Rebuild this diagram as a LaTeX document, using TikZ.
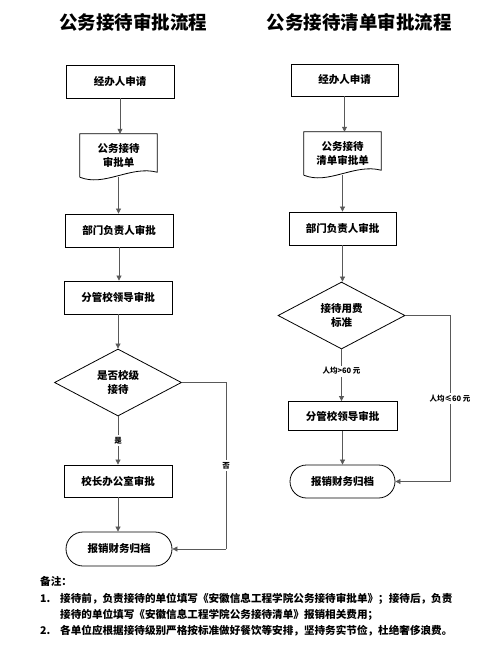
\documentclass[tikz,border=0pt]{standalone}
\usepackage{fontspec}
\setmainfont{Noto Sans CJK SC}
\usetikzlibrary{shapes.geometric,shapes.misc,arrows.meta,calc}
\begin{document}
\begin{tikzpicture}[x=1pt,y=-1pt,
  txt/.style={font=\bfseries\fontsize{10.5}{14.5}\selectfont},
  box/.style={txt,draw=black,line width=0.8pt,minimum width=108pt,minimum height=33pt,inner sep=0pt},
  docnode/.style={txt,minimum width=77pt,minimum height=43pt,inner sep=0pt,align=center},
  dec/.style={txt,draw=black,line width=0.8pt,shape=diamond,minimum width=127pt,minimum height=67pt,inner sep=0pt,align=center},
  term/.style={txt,draw=black,line width=0.8pt,shape=rounded rectangle,minimum width=106pt,minimum height=34pt,inner sep=0pt},
  conn/.style={draw=black!65,line width=0.7pt,-{Triangle[length=5pt,width=5pt]}},
  plain/.style={draw=black!65,line width=0.7pt},
  lab/.style={font=\bfseries\fontsize{7.5}{9}\selectfont,fill=white,inner sep=2pt},
  title/.style={font=\bfseries\fontsize{18.5}{20}\selectfont},
  note/.style={font=\bfseries\fontsize{10.6}{12}\selectfont,anchor=west,inner sep=0pt}
]
\useasboundingbox (0,0) rectangle (502,645);
% titles
\node[title] (t1) at (133,22) {公务接待审批流程};
\node[title] (t2) at (359,22) {公务接待清单审批流程};

% left column
\node[box] (a1) at (120,81.5) {经办人申请};
\node[docnode] (a2) at (118.5,155.5) {公务接待\\审批单};
\draw[line width=0.8pt] (a2.south west) -- (a2.north west) -- (a2.north east) -- ($(a2.south east)+(0,-5)$)
  .. controls ($(a2.south)+(12,-12)$) and ($(a2.south)+(-14,10)$) .. (a2.south west);
\node[box] (a3) at (119,230.5) {部门负责人审批};
\node[box] (a4) at (118,297.5) {分管校领导审批};
\node[dec] (a5) at (118,382.5) {是否校级\\接待};
\node[box,minimum height=32pt] (a6) at (118,481) {校长办公室审批};
\node[term] (a7) at (119,549) {报销财务归档};
\coordinate (ac1) at (226,382.5);
\coordinate (ac2) at (226,549);

\draw[conn] (a1) -- (a1 |- a2.north);
\draw[conn] (a2.south) -- (a2.south |- a3.north);
\draw[conn] (a3) -- (a3 |- a4.north);
\draw[conn] (a4) -- (a4 |- a5.north);
\draw[conn] (a5) -- node[lab] (ly) {是} (a6);
\draw[conn] (a6) -- (a6 |- a7.north);
\draw[plain] (a5.east) -- (ac1) -- node[lab,pos=0.5] (ln) {否} (ac2);
\draw[conn] (ac2) -- (a7.east);

% right column
\node[box,minimum width=107pt,minimum height=32pt] (b1) at (344.5,80) {经办人申请};
\node[docnode] (b2) at (342.5,153.5) {公务接待\\清单审批单};
\draw[line width=0.8pt] (b2.south west) -- (b2.north west) -- (b2.north east) -- ($(b2.south east)+(0,-5)$)
  .. controls ($(b2.south)+(12,-12)$) and ($(b2.south)+(-14,10)$) .. (b2.south west);
\node[box,minimum width=107pt] (b3) at (342.5,228.5) {部门负责人审批};
\node[dec] (b4) at (341.5,315.5) {接待用费\\标准};
\node[box,minimum width=109pt,minimum height=29pt] (b5) at (342.5,416) {分管校领导审批};
\node[term,minimum width=105pt,minimum height=33pt] (b6) at (342.5,481.5) {报销财务归档};
\coordinate (bc1) at (450,315.5);
\coordinate (bc2) at (450,481.5);

\draw[conn] (b1) -- (b1 |- b2.north);
\draw[conn] (b2.south) -- (b2.south |- b3.north);
\draw[conn] (b3) -- (b3 |- b4.north);
\draw[conn] (b4) -- node[lab,pos=0.42] (lg) {人均>60 元} (b4 |- b5.north);
\draw[conn] (b5) -- (b5 |- b6.north);
\draw[plain] (b4.east) -- (bc1) -- node[lab,pos=0.5] (ll) {人均≤60 元} (bc2);
\draw[conn] (bc2) -- (b6.east);

% notes
\node[note] (n0) at (40,581) {备注：};
\node[note] (n1) at (40,599) {1.};
\node[note] (n1a) at (60,599) {接待前，负责接待的单位填写《安徽信息工程学院公务接待审批单》；接待后，负责};
\node[note] (n1b) at (60,615) {接待的单位填写《安徽信息工程学院公务接待清单》报销相关费用；};
\node[note] (n2) at (40,631) {2.};
\node[note] (n2a) at (60,631) {各单位应根据接待级别严格按标准做好餐饮等安排，坚持务实节俭，杜绝奢侈浪费。};
\end{tikzpicture}
\end{document}
